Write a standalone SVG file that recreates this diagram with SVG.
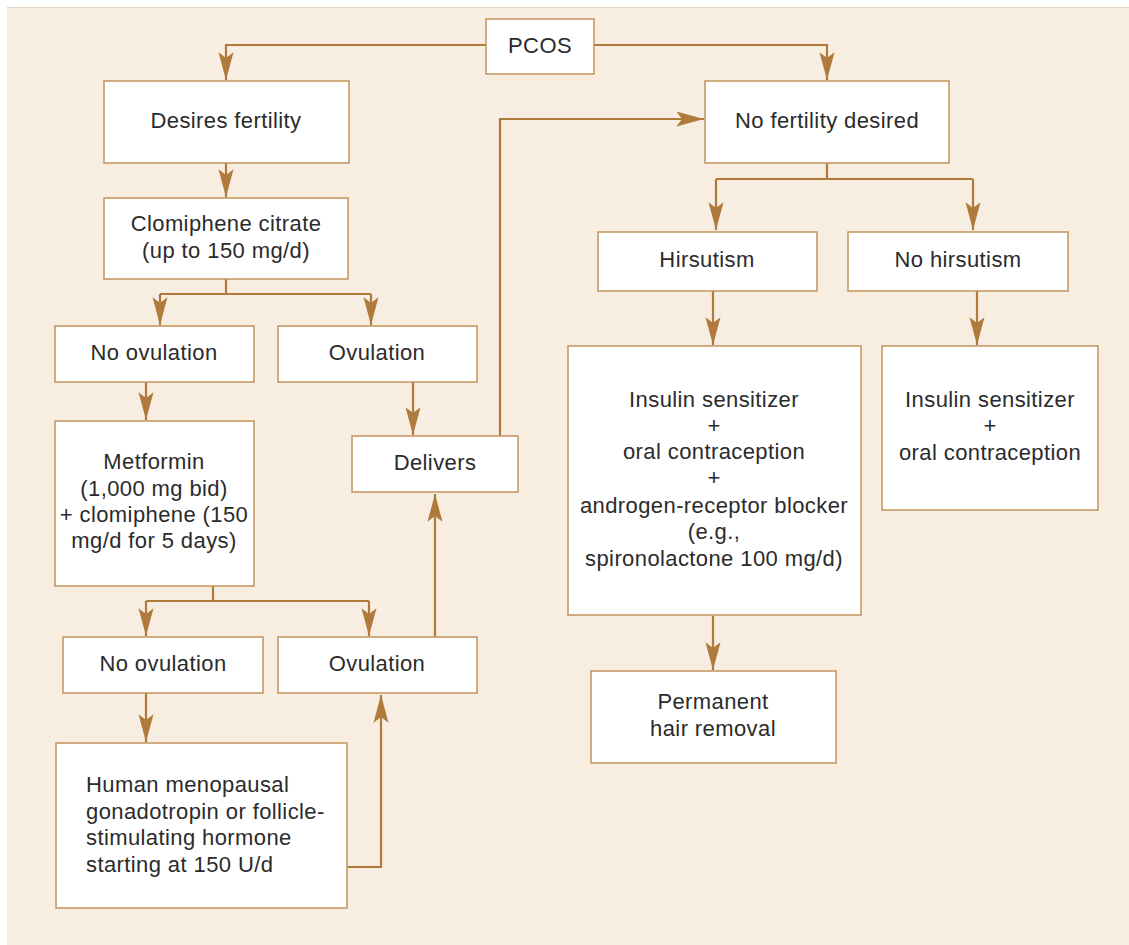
<svg xmlns="http://www.w3.org/2000/svg" width="1129" height="945" viewBox="0 0 1129 945">
<style>
.bx{fill:#ffffff;stroke:#c4925c;stroke-width:1.5}
.t{font-family:"Liberation Sans",Arial,sans-serif;font-size:22px;letter-spacing:0.4px;fill:#2b2b2b;text-anchor:middle}
.tl{text-anchor:start}
.c{fill:none;stroke:#b07a3c;stroke-width:2.2}
</style>
<defs>
<marker id="ah" markerUnits="userSpaceOnUse" markerWidth="30" markerHeight="20" viewBox="-24 -8 26 16" refX="0" refY="0" orient="auto">
<path d="M0,0 L-24,-6.5 L-19,0 L-24,6.5 Z" fill="#b07a3c"/>
</marker>
</defs>
<rect x="0" y="0" width="1129" height="945" fill="#ffffff"/>
<rect x="7" y="7" width="1122" height="938" fill="#f7ede0"/>
<line x1="7" y1="7.5" x2="1129" y2="7.5" stroke="#e6d6c6" stroke-width="1"/>

<g id="connectors">
<path class="c" d="M486,45 H226 V80" marker-end="url(#ah)"/>
<path class="c" d="M594,45 H827 V80" marker-end="url(#ah)"/>
<path class="c" d="M226,163 V197" marker-end="url(#ah)"/>
<path class="c" d="M226,279 V294"/>
<path class="c" d="M160,294 H371"/>
<path class="c" d="M160,294 V325" marker-end="url(#ah)"/>
<path class="c" d="M371,294 V325" marker-end="url(#ah)"/>
<path class="c" d="M146,382 V420" marker-end="url(#ah)"/>
<path class="c" d="M413,382 V435" marker-end="url(#ah)"/>
<path class="c" d="M213,586 V601"/>
<path class="c" d="M146,601 H369"/>
<path class="c" d="M146,601 V636" marker-end="url(#ah)"/>
<path class="c" d="M369,601 V636" marker-end="url(#ah)"/>
<path class="c" d="M435,637 V494" marker-end="url(#ah)"/>
<path class="c" d="M500,436 V119 H704" marker-end="url(#ah)"/>
<path class="c" d="M146,693 V742" marker-end="url(#ah)"/>
<path class="c" d="M347,867 H381 V695" marker-end="url(#ah)"/>
<path class="c" d="M827,163 V179"/>
<path class="c" d="M716,179 H973"/>
<path class="c" d="M716,179 V230" marker-end="url(#ah)"/>
<path class="c" d="M973,179 V230" marker-end="url(#ah)"/>
<path class="c" d="M713,291 V345" marker-end="url(#ah)"/>
<path class="c" d="M977,291 V345" marker-end="url(#ah)"/>
<path class="c" d="M713,616 V670" marker-end="url(#ah)"/>
</g>

<g id="pcos"><rect class="bx" x="486" y="19" width="108" height="55"/><text class="t" x="540" y="53">PCOS</text></g>
<g id="desires"><rect class="bx" x="104" y="81" width="245" height="82"/><text class="t" x="226" y="128">Desires fertility</text></g>
<g id="nofert"><rect class="bx" x="705" y="81" width="244" height="82"/><text class="t" x="827" y="128">No fertility desired</text></g>
<g id="clomiphene"><rect class="bx" x="104" y="198" width="244" height="81"/><text class="t" x="226" y="231">Clomiphene citrate</text><text class="t" x="226" y="258">(up to 150 mg/d)</text></g>
<g id="noovul1"><rect class="bx" x="55" y="326" width="199" height="56"/><text class="t" x="154" y="360">No ovulation</text></g>
<g id="ovul1"><rect class="bx" x="278" y="326" width="199" height="56"/><text class="t" x="377" y="360">Ovulation</text></g>
<g id="metformin"><rect class="bx" x="55" y="421" width="199" height="165"/>
<text class="t" x="154" y="469">Metformin</text><text class="t" x="154" y="496">(1,000 mg bid)</text><text class="t" x="154" y="522">+ clomiphene (150</text><text class="t" x="154" y="548">mg/d for 5 days)</text></g>
<g id="delivers"><rect class="bx" x="352" y="436" width="166" height="56"/><text class="t" x="435" y="470">Delivers</text></g>
<g id="noovul2"><rect class="bx" x="63" y="637" width="200" height="56"/><text class="t" x="163" y="671">No ovulation</text></g>
<g id="ovul2"><rect class="bx" x="278" y="637" width="199" height="56"/><text class="t" x="377" y="671">Ovulation</text></g>
<g id="hmg"><rect class="bx" x="56" y="743" width="291" height="165"/>
<text class="t tl" x="86" y="792">Human menopausal</text><text class="t tl" x="86" y="819">gonadotropin or follicle-</text><text class="t tl" x="86" y="845">stimulating hormone</text><text class="t tl" x="86" y="872">starting at 150 U/d</text></g>
<g id="hirsutism"><rect class="bx" x="598" y="232" width="219" height="59"/><text class="t" x="707" y="267">Hirsutism</text></g>
<g id="nohirsutism"><rect class="bx" x="848" y="232" width="220" height="59"/><text class="t" x="958" y="267">No hirsutism</text></g>
<g id="insulin1"><rect class="bx" x="568" y="346" width="293" height="269"/>
<text class="t" x="714" y="407">Insulin sensitizer</text><text class="t" x="714" y="433">+</text><text class="t" x="714" y="459">oral contraception</text><text class="t" x="714" y="485">+</text><text class="t" x="714" y="513">androgen-receptor blocker</text><text class="t" x="714" y="539">(e.g.,</text><text class="t" x="714" y="566">spironolactone 100 mg/d)</text></g>
<g id="permanent"><rect class="bx" x="591" y="671" width="245" height="92"/><text class="t" x="713" y="709">Permanent</text><text class="t" x="713" y="736">hair removal</text></g>
<g id="insulin2"><rect class="bx" x="882" y="346" width="216" height="164"/>
<text class="t" x="990" y="407">Insulin sensitizer</text><text class="t" x="990" y="433">+</text><text class="t" x="990" y="460">oral contraception</text></g>
</svg>
